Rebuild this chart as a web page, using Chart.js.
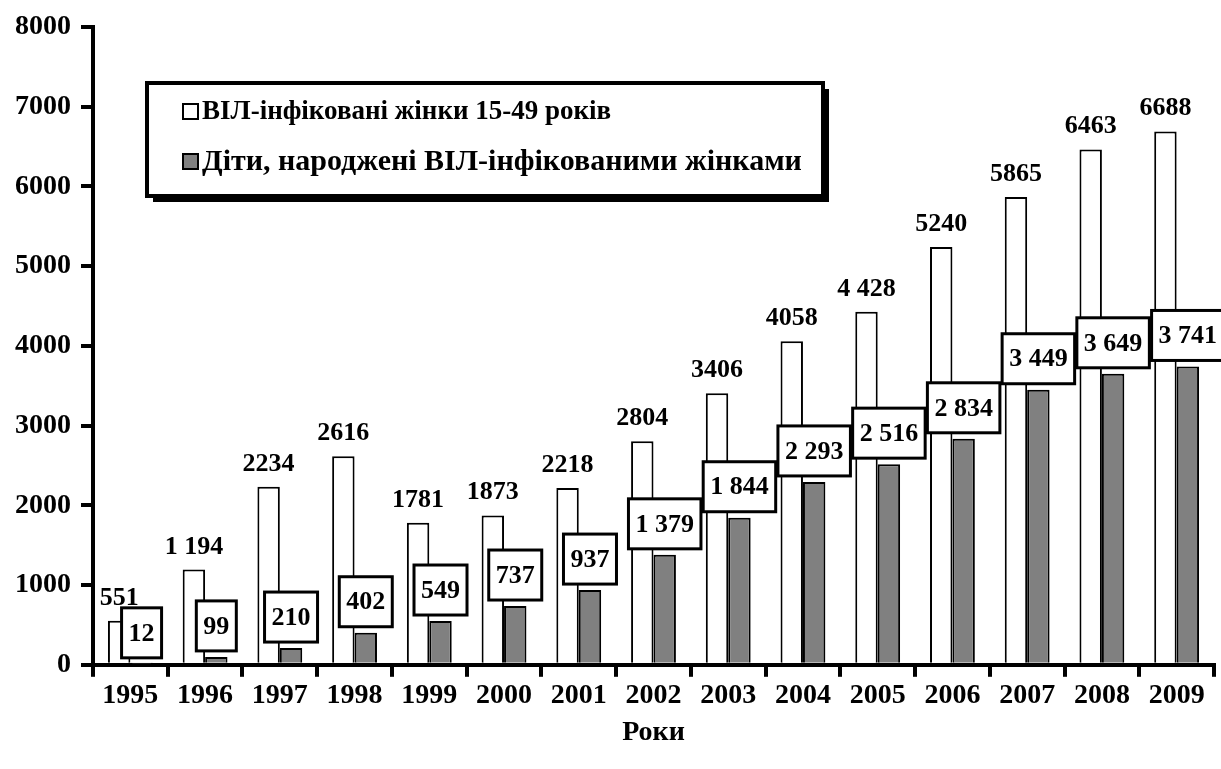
<!DOCTYPE html>
<html>
<head>
<meta charset="utf-8">
<script src="https://cdn.jsdelivr.net/npm/chart.js@4"></script>
<style>
  body { margin: 0; background: #fff; }
  #wrap { width: 1221px; height: 769px; }
</style>
</head>
<body>
<div id="wrap"><canvas id="hiv-chart" width="1221" height="769"></canvas></div>
<script>
const years = ["1995", "1996", "1997", "1998", "1999", "2000", "2001", "2002",
  "2003", "2004", "2005", "2006", "2007", "2008", "2009"];
const women = [551, 1194, 2234, 2616, 1781, 1873, 2218, 2804, 3406, 4058, 4428,
  5240, 5865, 6463, 6688];
const children = [12, 99, 210, 402, 549, 737, 937, 1379, 1844, 2293, 2516, 2834,
  3449, 3649, 3741];
// labels as printed on the original (spacing is not consistent)
const womenLabels = ["551", "1 194", "2234", "2616", "1781", "1873", "2218",
  "2804", "3406", "4058", "4 428", "5240", "5865", "6463", "6688"];
const childrenLabels = ["12", "99", "210", "402", "549", "737", "937", "1 379",
  "1 844", "2 293", "2 516", "2 834", "3 449", "3 649", "3 741"];
const seriesNames = ["ВІЛ-інфіковані жінки 15-49 років",
  "Діти, народжені ВІЛ-інфікованими жінками"];
const yTicks = [0, 1000, 2000, 3000, 4000, 5000, 6000, 7000, 8000];

const FONT = "'Liberation Serif', 'Times New Roman', serif";

const valueLabels = {
  id: "valueLabels",
  afterDatasetsDraw(chart) {
    const ctx = chart.ctx;
    ctx.save();
    ctx.font = "bold 26px " + FONT;
    ctx.fillStyle = "#000";
    ctx.textAlign = "center";

    // numbers above the white bars
    chart.getDatasetMeta(0).data.forEach((bar, i) => {
      ctx.textBaseline = "alphabetic";
      ctx.fillText(womenLabels[i], bar.x, bar.y - 16);
    });

    // boxed numbers above the grey bars
    chart.getDatasetMeta(1).data.forEach((bar, i) => {
      const txt = childrenLabels[i];
      const w = ctx.measureText(txt).width + 14;
      const h = 50;
      const bottom = bar.y - 6;
      const left = bar.x - w / 2;
      ctx.fillStyle = "#fff";
      ctx.fillRect(left, bottom - h, w, h);
      ctx.lineWidth = 3;
      ctx.strokeStyle = "#000";
      ctx.strokeRect(left, bottom - h, w, h);
      ctx.fillStyle = "#000";
      ctx.textBaseline = "middle";
      ctx.fillText(txt, bar.x, bottom - h / 2 + 1);
    });
    ctx.restore();
  },
};

const boxLegend = {
  id: "boxLegend",
  afterDraw(chart) {
    const ctx = chart.ctx;
    const x = 147, y = 83, w = 676, h = 113;
    const sizes = [27, 30];
    ctx.save();
    ctx.fillStyle = "#000";
    ctx.fillRect(x + 6, y + 6, w, h);
    ctx.fillStyle = "#fff";
    ctx.fillRect(x, y, w, h);
    ctx.lineWidth = 4;
    ctx.strokeStyle = "#000";
    ctx.strokeRect(x, y, w, h);

    ctx.textBaseline = "middle";
    ctx.textAlign = "left";
    chart.data.datasets.forEach((ds, i) => {
      const cy = y + 28 + i * 50;
      ctx.fillStyle = ds.backgroundColor;
      ctx.fillRect(x + 36, cy - 7, 15, 15);
      ctx.lineWidth = 2;
      ctx.strokeRect(x + 36, cy - 7, 15, 15);
      ctx.fillStyle = "#000";
      ctx.font = "bold " + sizes[i] + "px " + FONT;
      ctx.fillText(ds.label, x + 55, cy + 1);
    });
    ctx.restore();
  },
};

new Chart(document.getElementById("hiv-chart"), {
  type: "bar",
  data: {
    labels: years,
    datasets: [
      {
        label: seriesNames[0],
        data: women,
        backgroundColor: "#ffffff",
        borderColor: "#000000",
        borderWidth: 2,
      },
      {
        label: seriesNames[1],
        data: children,
        backgroundColor: "#808080",
        borderColor: "#000000",
        borderWidth: 2,
      },
    ],
  },
  options: {
    responsive: false,
    animation: false,
    layout: { padding: { top: 26, right: 7, left: 0, bottom: 0 } },
    datasets: { bar: { categoryPercentage: 0.6, barPercentage: 1.0 } },
    plugins: {
      legend: { display: false },
      tooltip: { enabled: false },
    },
    scales: {
      x: {
        grid: {
          drawOnChartArea: false,
          color: "#000",
          lineWidth: 4,
          tickLength: 12,
        },
        border: { color: "#000", width: 4 },
        ticks: {
          color: "#000",
          padding: 2,
          font: { family: FONT, size: 28, weight: "bold" },
        },
        title: {
          display: true,
          text: "Роки",
          color: "#000",
          padding: { top: 2, bottom: 19 },
          font: { family: FONT, size: 28, weight: "bold" },
        },
      },
      y: {
        min: 0,
        max: 8000,
        afterBuildTicks(scale) {
          scale.ticks = yTicks.map((v) => ({ value: v }));
        },
        afterFit(scale) {
          scale.width = 93;
        },
        grid: {
          drawOnChartArea: false,
          color: "#000",
          lineWidth: 4,
          tickLength: 12,
        },
        border: { color: "#000", width: 4 },
        ticks: {
          color: "#000",
          padding: 10,
          font: { family: FONT, size: 28, weight: "bold" },
          callback: (v) => String(v),
        },
      },
    },
  },
  plugins: [valueLabels, boxLegend],
});
</script>
</body>
</html>
